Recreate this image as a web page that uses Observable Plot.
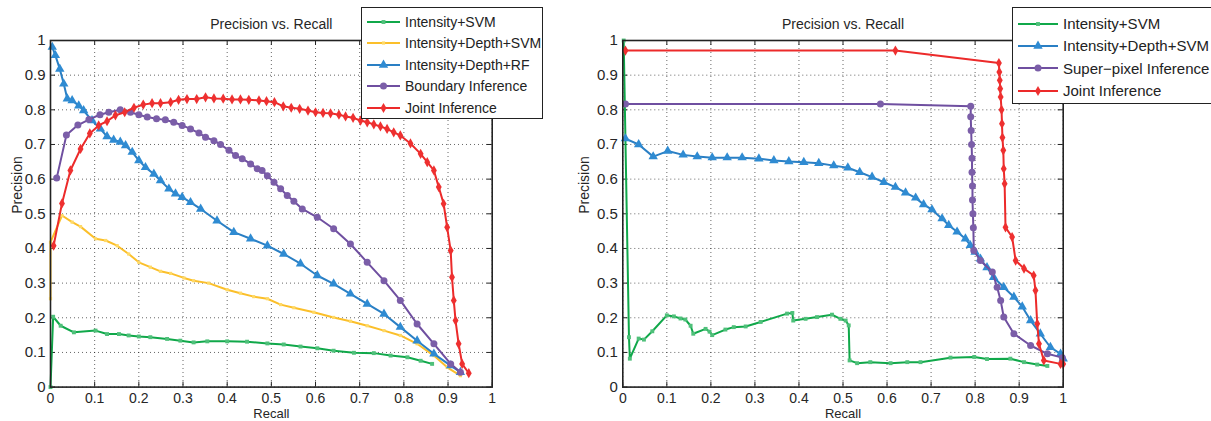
<!DOCTYPE html>
<html>
<head>
<meta charset="utf-8">
<script src="https://cdn.jsdelivr.net/npm/d3@7"></script>
<script src="https://cdn.jsdelivr.net/npm/@observablehq/plot@0.6"></script>
<style>
  html, body { margin: 0; padding: 0; background: #fff; }
  #wrap { position: relative; width: 1211px; height: 421px; overflow: hidden; font-family: "Liberation Sans", Arial, sans-serif; }
  .panel { position: absolute; top: 0; }
  .legend { position: absolute; background: #fff; border: 1px solid #222; box-sizing: border-box; color: #222; }
  .legend .row { position: absolute; display: flex; align-items: center; white-space: nowrap; }
  .legend svg { display: block; }
</style>
</head>
<body>
<div id="wrap"></div>
<script>
// ---------- tick values / labels ----------
const tickValues = [0, 0.1, 0.2, 0.3, 0.4, 0.5, 0.6, 0.7, 0.8, 0.9, 1];
const tickLabels = ["0", "0.1", "0.2", "0.3", "0.4", "0.5", "0.6", "0.7", "0.8", "0.9", "1"];
const chartTitle = "Precision vs. Recall";
const xLabel = "Recall";
const yLabel = "Precision";

// ---------- LEFT panel series ----------
const leftNames = ["Intensity+SVM", "Intensity+Depth+SVM", "Intensity+Depth+RF", "Boundary Inference", "Joint Inference"];

const leftGreenRecall = [0, 0.006, 0.023, 0.053, 0.102, 0.128, 0.155, 0.177, 0.200, 0.226, 0.264, 0.294, 0.324, 0.355, 0.400, 0.445, 0.491, 0.528, 0.566, 0.604, 0.641, 0.687, 0.732, 0.770, 0.808, 0.838, 0.864];
const leftGreenPrecision = [0, 0.203, 0.177, 0.158, 0.163, 0.153, 0.153, 0.149, 0.146, 0.144, 0.139, 0.134, 0.129, 0.132, 0.132, 0.131, 0.126, 0.123, 0.117, 0.112, 0.105, 0.099, 0.098, 0.091, 0.086, 0.076, 0.067];

const leftYellowRecall = [0, 0, 0.026, 0.049, 0.068, 0.102, 0.125, 0.151, 0.177, 0.200, 0.226, 0.249, 0.272, 0.302, 0.324, 0.358, 0.400, 0.430, 0.460, 0.491, 0.521, 0.551, 0.596, 0.641, 0.679, 0.717, 0.755, 0.792, 0.830, 0.868, 0.898, 0.928];
const leftYellowPrecision = [0.255, 0.418, 0.495, 0.476, 0.463, 0.428, 0.423, 0.408, 0.384, 0.360, 0.346, 0.334, 0.328, 0.315, 0.307, 0.300, 0.281, 0.271, 0.261, 0.255, 0.238, 0.229, 0.216, 0.201, 0.190, 0.177, 0.163, 0.149, 0.125, 0.091, 0.057, 0.033];

const leftBlueRecall = [0.004, 0.011, 0.021, 0.030, 0.038, 0.049, 0.064, 0.075, 0.094, 0.113, 0.128, 0.143, 0.158, 0.170, 0.185, 0.200, 0.215, 0.234, 0.249, 0.268, 0.283, 0.298, 0.317, 0.340, 0.377, 0.415, 0.453, 0.491, 0.528, 0.566, 0.604, 0.641, 0.679, 0.717, 0.755, 0.792, 0.830, 0.868, 0.906, 0.928];
const leftBluePrecision = [0.981, 0.957, 0.918, 0.875, 0.832, 0.827, 0.812, 0.798, 0.769, 0.745, 0.723, 0.713, 0.707, 0.697, 0.678, 0.654, 0.634, 0.615, 0.596, 0.572, 0.558, 0.548, 0.533, 0.514, 0.480, 0.447, 0.428, 0.408, 0.384, 0.356, 0.322, 0.298, 0.269, 0.240, 0.211, 0.173, 0.134, 0.096, 0.062, 0.043];

const leftPurpleRecall = [0.014, 0.036, 0.062, 0.087, 0.112, 0.132, 0.158, 0.181, 0.200, 0.219, 0.240, 0.260, 0.279, 0.298, 0.317, 0.336, 0.351, 0.370, 0.385, 0.404, 0.419, 0.434, 0.453, 0.468, 0.479, 0.491, 0.506, 0.521, 0.536, 0.551, 0.570, 0.604, 0.641, 0.679, 0.717, 0.755, 0.792, 0.830, 0.868, 0.906, 0.928];
const leftPurplePrecision = [0.603, 0.727, 0.756, 0.772, 0.786, 0.793, 0.800, 0.793, 0.786, 0.779, 0.774, 0.771, 0.764, 0.755, 0.745, 0.733, 0.721, 0.711, 0.700, 0.683, 0.668, 0.659, 0.644, 0.630, 0.625, 0.610, 0.591, 0.572, 0.553, 0.536, 0.514, 0.490, 0.457, 0.413, 0.360, 0.307, 0.250, 0.182, 0.125, 0.067, 0.043];

const leftRedRecall = [0.007, 0.026, 0.045, 0.068, 0.089, 0.109, 0.128, 0.147, 0.168, 0.189, 0.210, 0.230, 0.249, 0.272, 0.290, 0.309, 0.331, 0.351, 0.370, 0.391, 0.411, 0.430, 0.449, 0.472, 0.489, 0.507, 0.527, 0.545, 0.564, 0.583, 0.600, 0.617, 0.634, 0.653, 0.668, 0.685, 0.702, 0.717, 0.732, 0.747, 0.762, 0.777, 0.792, 0.815, 0.838, 0.853, 0.868, 0.879, 0.890, 0.898, 0.906, 0.909, 0.913, 0.917, 0.924, 0.932, 0.947];
const leftRedPrecision = [0.408, 0.530, 0.625, 0.687, 0.732, 0.755, 0.767, 0.784, 0.793, 0.806, 0.815, 0.819, 0.819, 0.822, 0.829, 0.831, 0.831, 0.836, 0.833, 0.832, 0.830, 0.830, 0.829, 0.827, 0.825, 0.822, 0.810, 0.806, 0.803, 0.798, 0.793, 0.791, 0.790, 0.786, 0.781, 0.777, 0.769, 0.764, 0.758, 0.752, 0.745, 0.735, 0.726, 0.703, 0.673, 0.649, 0.625, 0.577, 0.529, 0.461, 0.394, 0.317, 0.250, 0.192, 0.125, 0.067, 0.040];

// ---------- RIGHT panel series ----------
const rightNames = ["Intensity+SVM", "Intensity+Depth+SVM", "Super\u2212pixel Inference", "Joint Inference"];

const rightGreenRecall = [0.002, 0.014, 0.016, 0.036, 0.048, 0.067, 0.100, 0.116, 0.131, 0.142, 0.154, 0.160, 0.188, 0.197, 0.203, 0.233, 0.252, 0.279, 0.313, 0.373, 0.385, 0.387, 0.415, 0.441, 0.475, 0.494, 0.506, 0.513, 0.515, 0.532, 0.562, 0.608, 0.646, 0.676, 0.744, 0.798, 0.827, 0.880, 0.911, 0.941, 0.964];
const rightGreenPrecision = [1.0, 0.144, 0.082, 0.140, 0.137, 0.161, 0.207, 0.204, 0.198, 0.195, 0.177, 0.154, 0.168, 0.160, 0.150, 0.166, 0.173, 0.175, 0.188, 0.212, 0.214, 0.192, 0.197, 0.202, 0.209, 0.197, 0.192, 0.178, 0.077, 0.069, 0.072, 0.069, 0.072, 0.072, 0.085, 0.087, 0.081, 0.082, 0.072, 0.065, 0.061];

const rightBlueRecall = [0.006, 0.036, 0.069, 0.102, 0.137, 0.169, 0.203, 0.237, 0.271, 0.309, 0.343, 0.377, 0.411, 0.445, 0.479, 0.511, 0.538, 0.566, 0.593, 0.619, 0.642, 0.665, 0.683, 0.702, 0.725, 0.740, 0.759, 0.778, 0.789, 0.800, 0.812, 0.827, 0.842, 0.865, 0.888, 0.907, 0.926, 0.948, 0.971, 0.994, 1.0];
const rightBluePrecision = [0.717, 0.700, 0.665, 0.681, 0.670, 0.665, 0.662, 0.662, 0.662, 0.659, 0.654, 0.651, 0.649, 0.646, 0.639, 0.633, 0.620, 0.606, 0.591, 0.577, 0.561, 0.546, 0.527, 0.512, 0.486, 0.467, 0.448, 0.428, 0.409, 0.390, 0.370, 0.345, 0.317, 0.288, 0.260, 0.232, 0.192, 0.154, 0.115, 0.096, 0.082];

const rightPurpleRecall = [0.006, 0.585, 0.790, 0.790, 0.791, 0.792, 0.793, 0.793, 0.794, 0.794, 0.795, 0.796, 0.797, 0.812, 0.839, 0.850, 0.858, 0.865, 0.888, 0.926, 0.964, 0.998];
const rightPurplePrecision = [0.817, 0.817, 0.810, 0.780, 0.740, 0.700, 0.660, 0.620, 0.580, 0.540, 0.500, 0.460, 0.394, 0.365, 0.332, 0.288, 0.250, 0.202, 0.154, 0.120, 0.096, 0.085];

const rightRedRecall = [0.006, 0.619, 0.854, 0.855, 0.856, 0.857, 0.858, 0.860, 0.861, 0.862, 0.864, 0.865, 0.867, 0.869, 0.884, 0.892, 0.911, 0.933, 0.937, 0.941, 0.945, 0.956, 0.994, 1.0];
const rightRedPrecision = [0.971, 0.971, 0.935, 0.909, 0.885, 0.861, 0.837, 0.800, 0.760, 0.720, 0.683, 0.630, 0.587, 0.461, 0.433, 0.365, 0.342, 0.322, 0.279, 0.183, 0.125, 0.077, 0.067, 0.067];

// ---------- styles ----------
const styleGreen  = {stroke: "#10a84a", mark: "#4fc07a", symbol: "square", r: 2.2, width: 2};
const styleYellow = {stroke: "#fbbf2a", mark: "#ffd966", symbol: "square", r: 1.8, width: 2};
const styleBlue   = {stroke: "#2a7fc4", mark: "#2f8bd2", symbol: "triangle", r: 3.5, width: 2};
const stylePurple = {stroke: "#6f4fa0", mark: "#7b5ea8", symbol: "circle", r: 3.5, width: 2};
const styleRed    = {stroke: "#ec2a2a", mark: "#ee3030", symbol: "diamond", r: 3.1, width: 2};

function zipSeries(name, xs, ys, style) {
  return {name, style, data: xs.map((x, i) => ({recall: x, precision: ys[i]}))};
}

const leftSeries = [
  zipSeries(leftNames[0], leftGreenRecall, leftGreenPrecision, styleGreen),
  zipSeries(leftNames[1], leftYellowRecall, leftYellowPrecision, styleYellow),
  zipSeries(leftNames[2], leftBlueRecall, leftBluePrecision, styleBlue),
  zipSeries(leftNames[3], leftPurpleRecall, leftPurplePrecision, stylePurple),
  zipSeries(leftNames[4], leftRedRecall, leftRedPrecision, styleRed)
];
const rightSeries = [
  zipSeries(rightNames[0], rightGreenRecall, rightGreenPrecision, styleGreen),
  zipSeries(rightNames[1], rightBlueRecall, rightBluePrecision, styleBlue),
  zipSeries(rightNames[2], rightPurpleRecall, rightPurplePrecision, stylePurple),
  zipSeries(rightNames[3], rightRedRecall, rightRedPrecision, styleRed)
];

const FONT = "'Liberation Sans', Arial, Helvetica, sans-serif";
const fmt = d => tickLabels[tickValues.findIndex(t => Math.abs(t - d) < 1e-9)];

function panel({width, marginLeft, marginRight, ylabelDx, series}) {
  const height = 421, marginTop = 40, marginBottom = 34.4;
  const W = width - marginLeft - marginRight;
  const H = height - marginTop - marginBottom;
  const marks = [
    Plot.gridX(tickValues, {stroke: "#000", strokeOpacity: 0.6, strokeDasharray: "1,3", strokeWidth: 1}),
    Plot.gridY(tickValues, {stroke: "#000", strokeOpacity: 0.6, strokeDasharray: "1,3", strokeWidth: 1}),
    Plot.axisX({ticks: tickValues, tickFormat: fmt, tickSize: 0, tickPadding: 6, fontSize: 14, fill: "#262626", label: null}),
    Plot.axisY({ticks: tickValues, tickFormat: fmt, tickSize: 0, tickPadding: 5, fontSize: 15, fill: "#262626", label: null}),
    Plot.tickX(tickValues, {x: d => d, insetTop: H - 5, stroke: "#222"}),
    Plot.tickX(tickValues, {x: d => d, insetBottom: H - 5, stroke: "#222"}),
    Plot.tickY(tickValues, {y: d => d, insetRight: W - 5, stroke: "#222"}),
    Plot.tickY(tickValues, {y: d => d, insetLeft: W - 5, stroke: "#222"})
  ];
  for (const s of series) {
    marks.push(Plot.line(s.data, {x: "recall", y: "precision", stroke: s.style.stroke, strokeWidth: s.style.width, curve: "linear"}));
    marks.push(Plot.dot(s.data, {x: "recall", y: "precision", symbol: () => s.style.symbol, r: s.style.r, fill: s.style.mark, stroke: "none"}));
  }
  marks.push(Plot.frame({stroke: "#222", strokeWidth: 1.6}));
  marks.push(Plot.text([chartTitle], {frameAnchor: "top", dy: -16, lineAnchor: "middle", fontSize: 14, fill: "#262626", fontFamily: FONT}));
  marks.push(Plot.text([xLabel], {frameAnchor: "bottom", dy: 26.5, lineAnchor: "middle", fontSize: 13, fill: "#262626", fontFamily: FONT}));
  marks.push(Plot.text([yLabel], {frameAnchor: "left", dx: ylabelDx, rotate: -90, lineAnchor: "middle", fontSize: 14, fill: "#262626", fontFamily: FONT}));
  return Plot.plot({
    width, height, marginTop, marginBottom, marginLeft, marginRight,
    x: {domain: [0, 1]},
    y: {domain: [0, 1]},
    symbol: {type: "identity"},
    style: {fontFamily: FONT, background: "transparent", overflow: "visible"},
    marks
  });
}

function legend({left, top, width, height, rowTop, rowStep, fontSize, swatchLeft, swatchWidth, textGap, series}) {
  const box = document.createElement("div");
  box.className = "legend";
  Object.assign(box.style, {left: left + "px", top: top + "px", width: width + "px", height: height + "px", fontSize: fontSize + "px"});
  series.forEach((s, i) => {
    const row = document.createElement("div");
    row.className = "row";
    Object.assign(row.style, {left: swatchLeft + "px", top: (rowTop + i * rowStep - 10) + "px", height: "20px"});
    const ns = "http://www.w3.org/2000/svg";
    const svg = document.createElementNS(ns, "svg");
    svg.setAttribute("width", swatchWidth);
    svg.setAttribute("height", 20);
    const ln = document.createElementNS(ns, "line");
    ln.setAttribute("x1", 0); ln.setAttribute("x2", swatchWidth);
    ln.setAttribute("y1", 10); ln.setAttribute("y2", 10);
    ln.setAttribute("stroke", s.style.stroke); ln.setAttribute("stroke-width", 2.2);
    svg.appendChild(ln);
    const sym = {square: d3.symbolSquare, triangle: d3.symbolTriangle, circle: d3.symbolCircle, diamond: d3.symbolDiamond}[s.style.symbol];
    const area = Math.PI * s.style.r * s.style.r;
    const p = document.createElementNS(ns, "path");
    p.setAttribute("d", d3.symbol(sym, area)());
    p.setAttribute("transform", `translate(${swatchWidth / 2},10)`);
    p.setAttribute("fill", s.style.mark);
    svg.appendChild(p);
    row.appendChild(svg);
    const t = document.createElement("span");
    t.textContent = s.name;
    t.style.marginLeft = textGap + "px";
    row.appendChild(t);
    box.appendChild(row);
  });
  return box;
}

const wrap = document.getElementById("wrap");

const leftChart = panel({width: 560, marginLeft: 50, marginRight: 68.3, ylabelDx: -33, series: leftSeries});
leftChart.classList.add("panel");
leftChart.style.left = "0px";
wrap.appendChild(leftChart);

const rightChart = panel({width: 651, marginLeft: 62.3, marginRight: 148.3, ylabelDx: -38, series: rightSeries});
rightChart.classList.add("panel");
rightChart.style.left = "560px";
wrap.appendChild(rightChart);

wrap.appendChild(legend({left: 361, top: 7, width: 182, height: 112, rowTop: 14, rowStep: 21.4, fontSize: 14,
  swatchLeft: 5, swatchWidth: 33, textGap: 5, series: leftSeries}));
wrap.appendChild(legend({left: 1012, top: 7, width: 215, height: 97, rowTop: 15.5, rowStep: 22.4, fontSize: 15,
  swatchLeft: 5, swatchWidth: 40, textGap: 5, series: rightSeries}));
</script>
</body>
</html>
